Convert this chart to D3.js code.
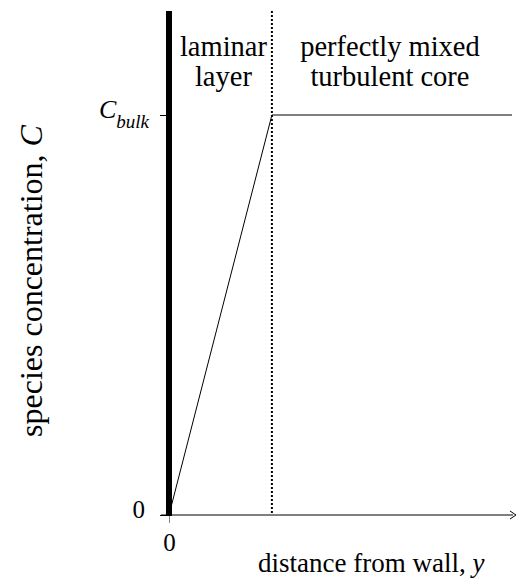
<!DOCTYPE html>
<html>
<head>
<meta charset="utf-8">
<script src="https://cdn.jsdelivr.net/npm/d3@7"></script>
<style>
  html, body { margin: 0; padding: 0; background: #fff; }
  svg { display: block; }
  svg text { font-family: "Liberation Serif", "Times New Roman", serif; }
</style>
</head>
<body>
<div id="chart"></div>
<script>
// concentration profile near a wall (film model)
const distance = [0, 3, 10];          // distance from wall, y
const concentration = [0, 1, 1];      // C / C_bulk
const laminarEdge = 3;                // edge of the laminar layer
const yTickValues = [0, 1];
const yTickLabels = ["0", "C_bulk"];
const xTickValues = [0];
const xTickLabels = ["0"];
const regionLabels = [
    { lines: ["laminar", "layer"], from: 0, to: 3 },
    { lines: ["perfectly mixed", "turbulent core"], from: 3, to: 10 }
];

const width = 516, height = 583;
const serif = '"Liberation Serif", "Times New Roman", serif';
const x = d3.scaleLinear().domain([0, 10]).range([169, 512]);
const y = d3.scaleLinear().domain([0, 1]).range([515, 115]);
const yTop = 1.26;

const svg = d3.select("#chart").append("svg")
    .attr("width", width)
    .attr("height", height)
    .attr("font-family", serif);

// y axis ticks (no domain line, the wall sits there)
const yAxis = svg.append("g")
    .attr("transform", `translate(${x(0)},0)`)
    .call(d3.axisLeft(y).tickValues(yTickValues).tickSize(9).tickFormat((d, i) => yTickLabels[i]))
    .attr("font-family", serif)
    .attr("text-anchor", "start");
yAxis.select(".domain").remove();
yAxis.selectAll(".tick line").attr("stroke", "#000").attr("stroke-width", 1);
yAxis.selectAll(".tick text").remove();
yAxis.selectAll(".tick").each(function(d, i) {
    const g = d3.select(this);
    if (yTickLabels[i] === "C_bulk") {
        const t = g.append("text")
            .attr("x", -70).attr("y", 2)
            .attr("text-anchor", "start")
            .attr("fill", "#000")
            .style("font-family", serif)
            .style("font-style", "italic")
            .style("font-size", "26px");
        t.append("tspan").text("C");
        t.append("tspan").attr("dy", 10).style("font-size", "19px").text("bulk");
    } else {
        g.append("text")
            .attr("x", -24).attr("y", 2)
            .attr("text-anchor", "end")
            .attr("fill", "#000")
            .style("font-family", serif)
            .style("font-size", "25px")
            .text(yTickLabels[i]);
    }
});

// x axis tick
const xAxis = svg.append("g")
    .attr("transform", `translate(0,${y(0)})`)
    .call(d3.axisBottom(x).tickValues(xTickValues).tickSize(8).tickFormat((d, i) => xTickLabels[i]))
    .attr("font-family", serif);
xAxis.select(".domain").remove();
xAxis.selectAll(".tick line").attr("stroke", "#888");
xAxis.selectAll(".tick text")
    .attr("y", 36)
    .attr("dy", 0)
    .attr("fill", "#000")
    .style("font-family", serif)
    .style("font-size", "25px");

// x axis line with open arrow head
svg.append("line")
    .attr("x1", x(0) - 8).attr("x2", x(10) + 1)
    .attr("y1", y(0)).attr("y2", y(0))
    .attr("stroke", "#000").attr("stroke-width", 1);
svg.append("path")
    .attr("d", `M${x(10) - 2},${y(0) - 4} L${x(10) + 4},${y(0)} L${x(10) - 2},${y(0) + 4}`)
    .attr("fill", "none").attr("stroke", "#000").attr("stroke-width", 1);

// laminar layer edge
svg.append("line")
    .attr("x1", x(laminarEdge)).attr("x2", x(laminarEdge))
    .attr("y1", y(yTop)).attr("y2", y(0))
    .attr("stroke", "#000").attr("stroke-width", 2)
    .attr("stroke-dasharray", "2,2");

// concentration profile
svg.append("path")
    .datum(distance.map((d, i) => [d, concentration[i]]))
    .attr("d", d3.line().x(d => x(d[0])).y(d => y(d[1])))
    .attr("fill", "none").attr("stroke", "#000").attr("stroke-width", 1);

// wall
svg.append("rect")
    .attr("x", x(0) - 3).attr("width", 6)
    .attr("y", y(yTop)).attr("height", y(0) - y(yTop) + 1)
    .attr("fill", "#000");

// region labels
regionLabels.forEach(r => {
    const cx = (x(r.from) + x(r.to)) / 2 + (r.from === 0 ? 3 : -2);
    r.lines.forEach((line, i) => {
        svg.append("text")
            .attr("x", cx).attr("y", 56 + i * 30)
            .attr("text-anchor", "middle")
            .style("font-family", serif)
            .style("font-size", "28.5px")
            .text(line);
    });
});

// axis titles
svg.append("text")
    .attr("transform", `translate(42,281) rotate(-90)`)
    .attr("text-anchor", "middle")
    .style("font-family", serif)
    .style("font-size", "32px")
    .call(t => {
        t.append("tspan").text("species concentration, ");
        t.append("tspan").style("font-style", "italic").text("C");
    });

svg.append("text")
    .attr("x", 258).attr("y", 572)
    .style("font-family", serif)
    .style("font-size", "27px")
    .call(t => {
        t.append("tspan").text("distance from wall, ");
        t.append("tspan").style("font-style", "italic").text("y");
    });
</script>
</body>
</html>
